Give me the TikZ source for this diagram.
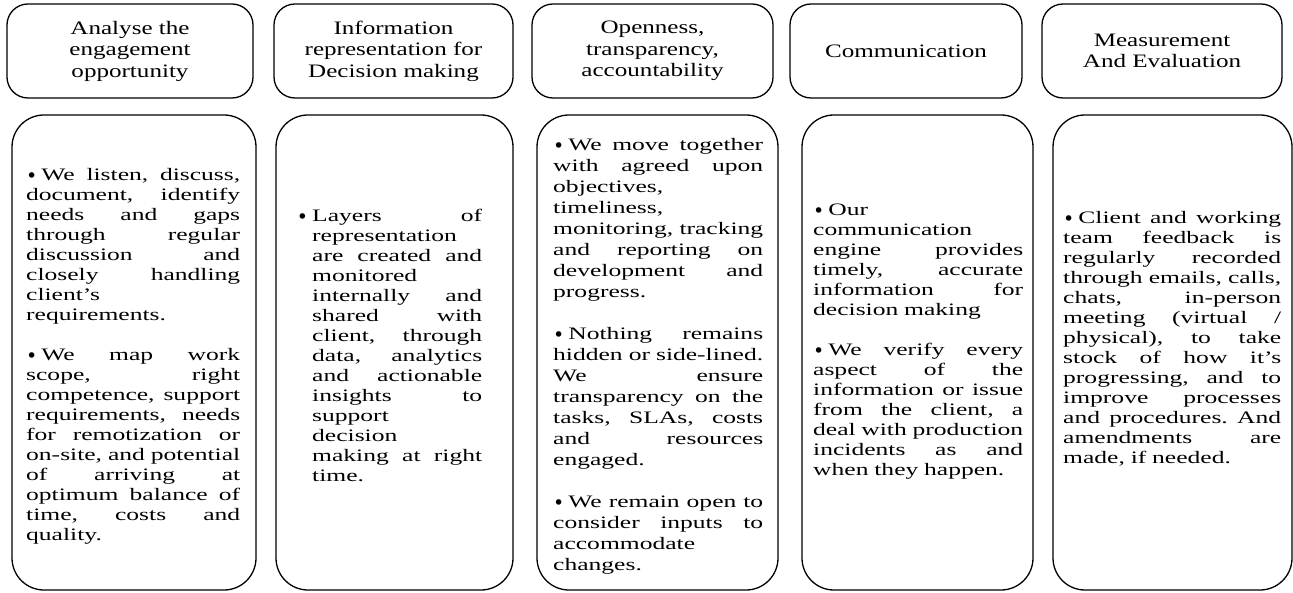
\documentclass[tikz,border=0pt]{standalone}
\usepackage{fontspec}
\setmainfont{Liberation Serif}
\newfontfamily\bodyfont{Liberation Serif}[FakeStretch=1.46]
\newfontfamily\headfont{Liberation Serif}[FakeStretch=1.32]
\newfontfamily\dotfont{DejaVu Sans}
\newcommand{\J}[1]{\leavevmode\hbox to \hsize{\spaceskip=0.25em plus 1fil minus 0.08em\relax #1}}
\newcommand{\bul}{\raisebox{-2pt}{\dotfont\fontsize{19pt}{19pt}\selectfont •}\kern4pt}
\newcommand{\hbul}{\llap{\bul}}
\tikzset{
  hdrbox/.style={draw, line width=1.3pt, rounded corners=21pt, minimum width=#1pt,
    minimum height=94pt, inner sep=0pt, align=center,
    font=\headfont\fontsize{19pt}{21.5pt}\selectfont},
  bodybox/.style={draw, line width=1.3pt, rounded corners=32pt, minimum width=#1pt,
    minimum height=475pt, inner sep=0pt},
  bodytxt/.style={text width=#1pt, inner sep=0pt, align=left, anchor=base west,
    font=\bodyfont\fontsize{17.5pt}{20pt}\selectfont\frenchspacing}
}
\begin{document}
\begin{tikzpicture}[x=1pt,y=-1pt]
\useasboundingbox (0,0) rectangle (1293,593);
% headers
\node[hdrbox=246] (hdr1) at (130,51) {Analyse the\\engagement\\opportunity};
\node[hdrbox=239] (hdr2) at (393.5,51) {Information\\representation for\\Decision making};
\node[hdrbox=241] (hdr3) at (652.5,51) {Openness,\\transparency,\\accountability};
\node[hdrbox=232] (hdr4) at (906,51) {Communication};
\node[hdrbox=240] (hdr5) at (1162,51) {Measurement\\And Evaluation};
% body boxes
\node[bodybox=244] (box1) at (134,352.5) {};
\node[bodybox=237] (box2) at (394.5,352.5) {};
\node[bodybox=241] (box3) at (657.5,352.5) {};
\node[bodybox=231] (box4) at (917.5,352.5) {};
\node[bodybox=239] (box5) at (1172.5,352.5) {};
% body texts
\node[bodytxt=214] (txt1) at (26,181) {%
\J{\bul We listen, discuss,}\\
\J{document, identify}\\
\J{needs and gaps}\\
\J{through regular}\\
\J{discussion and}\\
\J{closely handling}\\
client’s\\
requirements.\\[20pt]
\J{\bul We map work}\\
\J{scope, right}\\
\J{competence, support}\\
\J{requirements, needs}\\
\J{for remotization or}\\
\J{on-site, and potential}\\
\J{of arriving at}\\
\J{optimum balance of}\\
\J{time, costs and}\\
quality.};
\node[bodytxt=170] (txt2) at (312,222) {%
\J{\hbul Layers of}\\
representation\\
\J{are created and}\\
monitored\\
\J{internally and}\\
\J{shared with}\\
\J{client, through}\\
\J{data, analytics}\\
\J{and actionable}\\
\J{insights to}\\
support\\
decision\\
\J{making at right}\\
time.};
\node[bodytxt=210] (txt3) at (553,151) {\baselineskip=21pt
\J{\bul We move together}\\
\J{with agreed upon}\\
objectives,\\
timeliness,\\
\J{monitoring, tracking}\\
\J{and reporting on}\\
\J{development and}\\
progress.\\[21pt]
\J{\bul Nothing remains}\\
\J{hidden or side-lined.}\\
\J{We ensure}\\
\J{transparency on the}\\
\J{tasks, SLAs, costs}\\
\J{and resources}\\
engaged.\\[21pt]
\J{\bul We remain open to}\\
\J{consider inputs to}\\
accommodate\\
changes.\par};
\node[bodytxt=210] (txt4) at (813,216) {%
\bul Our\\
communication\\
\J{engine provides}\\
\J{timely, accurate}\\
\J{information for}\\
decision making\\[20pt]
\J{\bul We verify every}\\
\J{aspect of the}\\
\J{information or issue}\\
\J{from the client, a}\\
\J{deal with production}\\
\J{incidents as and}\\
when they happen.};
\node[bodytxt=218] (txt5) at (1063,224) {%
\J{\bul Client and working}\\
\J{team feedback is}\\
\J{regularly recorded}\\
\J{through emails, calls,}\\
\J{chats, in-person}\\
\J{meeting (virtual /}\\
\J{physical), to take}\\
\J{stock of how it’s}\\
\J{progressing, and to}\\
\J{improve processes}\\
\J{and procedures. And}\\
\J{amendments are}\\
made, if needed.};
\end{tikzpicture}
\end{document}
